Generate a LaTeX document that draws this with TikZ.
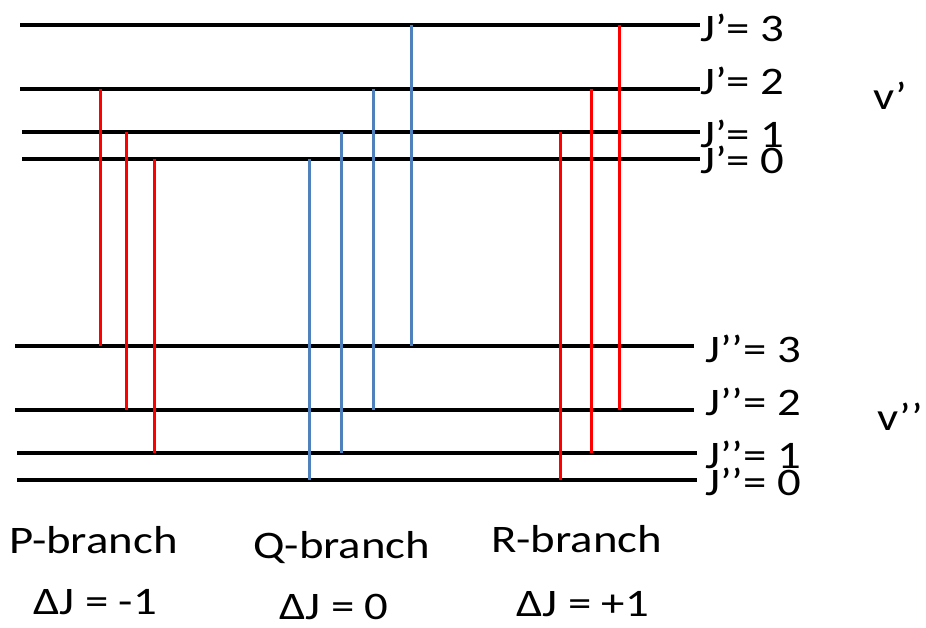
\documentclass[tikz,border=0pt]{standalone}
\usepackage{fontspec}
\setmainfont{Carlito}
\definecolor{qblue}{RGB}{79,129,189}
\definecolor{pred}{RGB}{255,0,0}
\newcommand{\wide}[1]{\scalebox{1.2}[1]{#1}}
\begin{document}
\begin{tikzpicture}[x=1pt,y=-1pt,
  level/.style={line width=4pt,black},
  ptrans/.style={line width=3pt,pred},
  qtrans/.style={line width=3pt,qblue},
  lbl/.style={anchor=base west,inner sep=0pt,font=\fontsize{39}{40}\selectfont}]
\useasboundingbox (0,0) rectangle (926,628);
% upper levels
\coordinate (u3l) at (20,25);  \coordinate (u3r) at (700,25);
\coordinate (u2l) at (20,89);  \coordinate (u2r) at (700,89);
\coordinate (u1l) at (22,132); \coordinate (u1r) at (700,132);
\coordinate (u0l) at (22,159); \coordinate (u0r) at (700,159);
% lower levels
\coordinate (l3l) at (15,346); \coordinate (l3r) at (694,346);
\coordinate (l2l) at (15,410); \coordinate (l2r) at (694,410);
\coordinate (l1l) at (17,453); \coordinate (l1r) at (697,453);
\coordinate (l0l) at (17,480); \coordinate (l0r) at (697,480);
\foreach \a/\b in {u3l/u3r,u2l/u2r,u1l/u1r,u0l/u0r,l3l/l3r,l2l/l2r,l1l/l1r,l0l/l0r}
  \draw[level] (\a) -- (\b);
% columns
\coordinate (p1) at (100,0); \coordinate (p2) at (126,0); \coordinate (p3) at (154,0);
\coordinate (q1) at (309,0); \coordinate (q2) at (341,0); \coordinate (q3) at (373,0); \coordinate (q4) at (411,0);
\coordinate (r1) at (560,0); \coordinate (r2) at (591,0); \coordinate (r3) at (619,0);
% P branch
\draw[ptrans] (p1 |- u2l) -- (p1 |- l3l);
\draw[ptrans] (p2 |- u1l) -- (p2 |- l2l);
\draw[ptrans] (p3 |- u0l) -- (p3 |- l1l);
% Q branch
\draw[qtrans] (q1 |- u0l) -- (q1 |- l0l);
\draw[qtrans] (q2 |- u1l) -- (q2 |- l1l);
\draw[qtrans] (q3 |- u2l) -- (q3 |- l2l);
\draw[qtrans] (q4 |- u3l) -- (q4 |- l3l);
% R branch
\draw[ptrans] (r1 |- u1l) -- (r1 |- l0l);
\draw[ptrans] (r2 |- u2l) -- (r2 |- l1l);
\draw[ptrans] (r3 |- u3l) -- (r3 |- l2l);
% labels
\node[lbl] (tu3) at (700,42)  {\wide{J’= 3}};
\node[lbl] (tu2) at (700,95)  {\wide{J’= 2}};
\node[lbl] (tu1) at (700,148) {\wide{J’= 1}};
\node[lbl] (tu0) at (700,174) {\wide{J’= 0}};
\node[lbl] (tv1) at (873,110) {\wide{v’}};
\node[lbl] (tl3) at (705,362) {\wide{J’’= 3}};
\node[lbl] (tl2) at (705,415) {\wide{J’’= 2}};
\node[lbl] (tl1) at (705,468) {\wide{J’’= 1}};
\node[lbl] (tl0) at (705,495) {\wide{J’’= 0}};
\node[lbl] (tv2) at (877,430) {\wide{v’’}};
\node[lbl] (bp) at (9,553)   {\wide{P-branch}};
\node[lbl] (bq) at (253,558) {\wide{Q-branch}};
\node[lbl] (br) at (491,552) {\wide{R-branch}};
\node[lbl] (dp) at (33,614)  {\wide{ΔJ = -1}};
\node[lbl] (dq) at (279,619) {\wide{ΔJ = 0}};
\node[lbl] (dr) at (516,616) {\wide{ΔJ = +1}};
\end{tikzpicture}
\end{document}
